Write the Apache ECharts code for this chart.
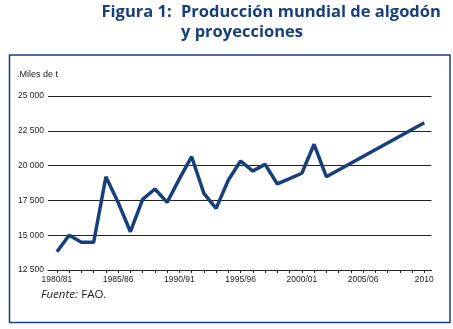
<!DOCTYPE html>
<html><head><meta charset="utf-8">
<script src="https://cdn.jsdelivr.net/npm/echarts@6/dist/echarts.min.js"></script>
<style>html,body{margin:0;padding:0;background:#fff}#c{width:453px;height:329px}</style>
</head><body><div id="c"></div>
<script>
const years = [1980,1981,1982,1983,1984,1985,1986,1987,1988,1989,1990,1991,1992,1993,1994,1995,1996,1997,1998,1999,2000,2001,2002,2010];
const production = [13810,15000,14490,14490,19200,17350,15250,17580,18320,17360,19050,20640,18010,16930,18970,20330,19610,20090,18680,19060,19450,21530,19200,23080];
const tickYears = [1980,1981,1982,1983,1984,1985,1986,1987,1988,1989,1990,1991,1992,1993,1994,1995,1996,1997,1998,1999,2000,2001,2002,2003,2004,2005,2006,2007,2008,2009,2010];
const labelYears = [1980,1985,1990,1995,2000,2005,2010];
const labelTexts = ['1980/81','1985/86','1990/91','1995/96','2000/01','2005/06','2010'];
const yTicks = [12500,15000,17500,20000,22500,25000];

const chart = echarts.init(document.getElementById('c'), null, {renderer:'canvas'});
const blue = '#163f7c';
chart.setOption({
  animation:false,
  grid:{left:48, right:21.5, top:96, bottom:59},
  xAxis:{type:'value', min:1979.27, max:2010.59,
    axisLine:{show:true, lineStyle:{color:'#222', width:1}},
    axisTick:{show:true, customValues:tickYears, length:3, lineStyle:{color:'#222'}},
    axisLabel:{customValues:labelYears, fontFamily:'Liberation Sans', fontSize:8.5, color:'#222', margin:5,
      formatter:v=>labelTexts[labelYears.indexOf(Math.round(v))]},
    splitLine:{show:false}},
  yAxis:{type:'value', min:12500, max:25000, interval:2500,
    axisLine:{show:false}, axisTick:{show:false},
    axisLabel:{fontFamily:'Liberation Sans', fontSize:8.5, color:'#222', margin:4,
      formatter:v=>String(v).replace(/\B(?=(\d{3})+(?!\d))/g,' ')},
    splitLine:{lineStyle:{color:'#222', width:1}}},
  series:[{type:'line', data:years.map((y,i)=>[y,production[i]]), symbol:'none',
    lineStyle:{color:blue, width:3.5}}],
  graphic:[
    {type:'rect', shape:{x:9.5, y:55, width:440.5, height:267.5}, style:{fill:'none', stroke:blue, lineWidth:1.5}},
    {type:'text', x:101.5, y:20.5, style:{text:'Figura 1:', font:'bold 16.5px "Open Sans"', fill:blue, textVerticalAlign:'bottom'}},
    {type:'text', x:181, y:20.5, style:{text:'Producción mundial de algodón', font:'bold 16.5px "Open Sans"', fill:blue, textVerticalAlign:'bottom'}},
    {type:'text', x:181, y:41, style:{text:'y proyecciones', font:'bold 16.5px "Open Sans"', fill:blue, textVerticalAlign:'bottom'}},
    {type:'text', x:17, y:75, style:{text:'.Miles de t', font:'9px "Liberation Sans"', fill:'#222', textVerticalAlign:'middle'}},
    {type:'text', x:41, y:295, style:{rich:{i:{fontStyle:'italic', fontSize:11.5, fontFamily:'Open Sans', fill:'#222'}, n:{fontSize:11.5, fontFamily:'Open Sans', fill:'#222'}}, text:'{i|Fuente:} {n|FAO.}', textVerticalAlign:'middle'}}
  ]
});
</script></body></html>
